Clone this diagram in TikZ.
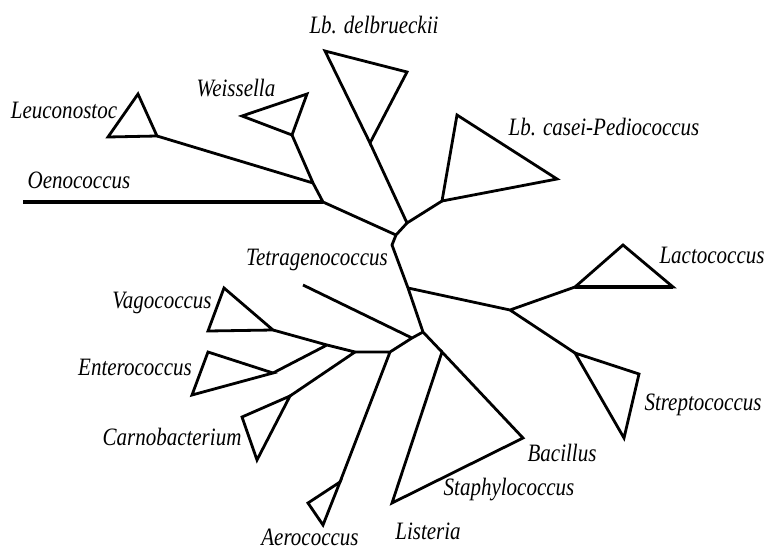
\documentclass[tikz,border=0pt]{standalone}
\usepackage{fontspec}
\setmainfont{Liberation Serif}
\newfontfamily\taxfont{Liberation Serif}[FakeStretch=0.84]
\usetikzlibrary{positioning}

\begin{document}
\begin{tikzpicture}[x=1pt, y=-1pt,
    branch/.style={line width=2.8pt, line join=miter},
    heavy/.style={line width=4pt},
    taxon/.style={font=\taxfont\itshape\fontsize{25}{27}\selectfont, inner sep=0pt}
]
\useasboundingbox (0,0) rectangle (765,551);

% inner nodes of the tree
\coordinate (n1) at (313,183);
\coordinate (n2) at (323,202);
\coordinate (n3) at (396,235);
\coordinate (n4) at (407,223);
\coordinate (n5) at (392,245);
\coordinate (n6) at (408,288);
\coordinate (n7) at (423,332);
\coordinate (n8) at (510,310);
\coordinate (n9) at (412,338);
\coordinate (n10) at (390,352);
\coordinate (n11) at (355,352);
\coordinate (n12) at (327,345);

% clade corners
\coordinate (leuA) at (138,94);  \coordinate (leuB) at (108,137); \coordinate (leuC) at (157,136);
\coordinate (weiA) at (242,116); \coordinate (weiB) at (307,94);  \coordinate (weiC) at (292,135);
\coordinate (delA) at (325,51);  \coordinate (delB) at (407,72);  \coordinate (delC) at (370,143);
\coordinate (casA) at (442,201); \coordinate (casB) at (457,115); \coordinate (casC) at (557,179);
\coordinate (lacA) at (575,287); \coordinate (lacB) at (623,245); \coordinate (lacC) at (673,287);
\coordinate (strA) at (575,353); \coordinate (strB) at (639,374); \coordinate (strC) at (624,438);
\coordinate (bacA) at (442,352); \coordinate (bacB) at (523,438); \coordinate (bacC) at (392,503);
\coordinate (aerA) at (340,482); \coordinate (aerB) at (308,503); \coordinate (aerC) at (323,525);
\coordinate (vagA) at (224,288); \coordinate (vagB) at (208,331); \coordinate (vagC) at (273,330);
\coordinate (entA) at (208,352); \coordinate (entB) at (192,395); \coordinate (entC) at (273,373);
\coordinate (carA) at (290,396); \coordinate (carB) at (242,417); \coordinate (carC) at (257,460);
\coordinate (oen) at (23,202);
\coordinate (tet) at (303,285);

% clades
\foreach \c in {leu,wei,del,cas,lac,str,bac,aer,vag,ent,car}
    \draw[branch] (\c A) -- (\c B) -- (\c C) -- cycle;
\draw[heavy] (lacA) -- (lacC);

% branches
\draw[branch] (leuC) -- (n1) (weiC) -- (n1) -- (n2) -- (n3);
\draw[heavy] (oen) -- (n2);
\draw[branch] (delC) -- (n4) (casA) -- (n4) -- (n3) -- (n5) -- (n6) -- (n7) -- (bacA);
\draw[branch] (n6) -- (n8) (n8) -- (lacA) (n8) -- (strA);
\draw[branch] (n7) -- (n9) (tet) -- (n9) -- (n10) -- (n11) (n10) -- (aerA);
\draw[branch] (n11) -- (n12) -- (vagC) (n12) -- (entC) (n11) -- (carA);

% labels
\node[taxon] (tdel) at (374,25) {Lb. delbrueckii};
\node[taxon] (twei) at (236,88) {Weissella};
\node[taxon] (tleu) at (64,110) {Leuconostoc};
\node[taxon] (toen) at (79,180) {Oenococcus};
\node[taxon] (ttet) at (317,260) {Tetragenococcus};
\node[taxon] (tcas) at (604,127) {Lb. casei-Pediococcus};
\node[taxon] (tlac) at (712,255) {Lactococcus};
\node[taxon] (tstr) at (703,405) {Streptococcus};
\node[taxon] (tbac) at (562,453) {Bacillus};
\node[taxon] (tsta) at (509,490) {Staphylococcus};
\node[taxon] (tlis) at (428,531) {Listeria};
\node[taxon] (tvag) at (162,303) {Vagococcus};
\node[taxon] (tent) at (135,367) {Enterococcus};
\node[taxon] (tcar) at (172,437) {Carnobacterium};
\node[taxon] (taer) at (310,537) {Aerococcus};
\end{tikzpicture}
\end{document}
